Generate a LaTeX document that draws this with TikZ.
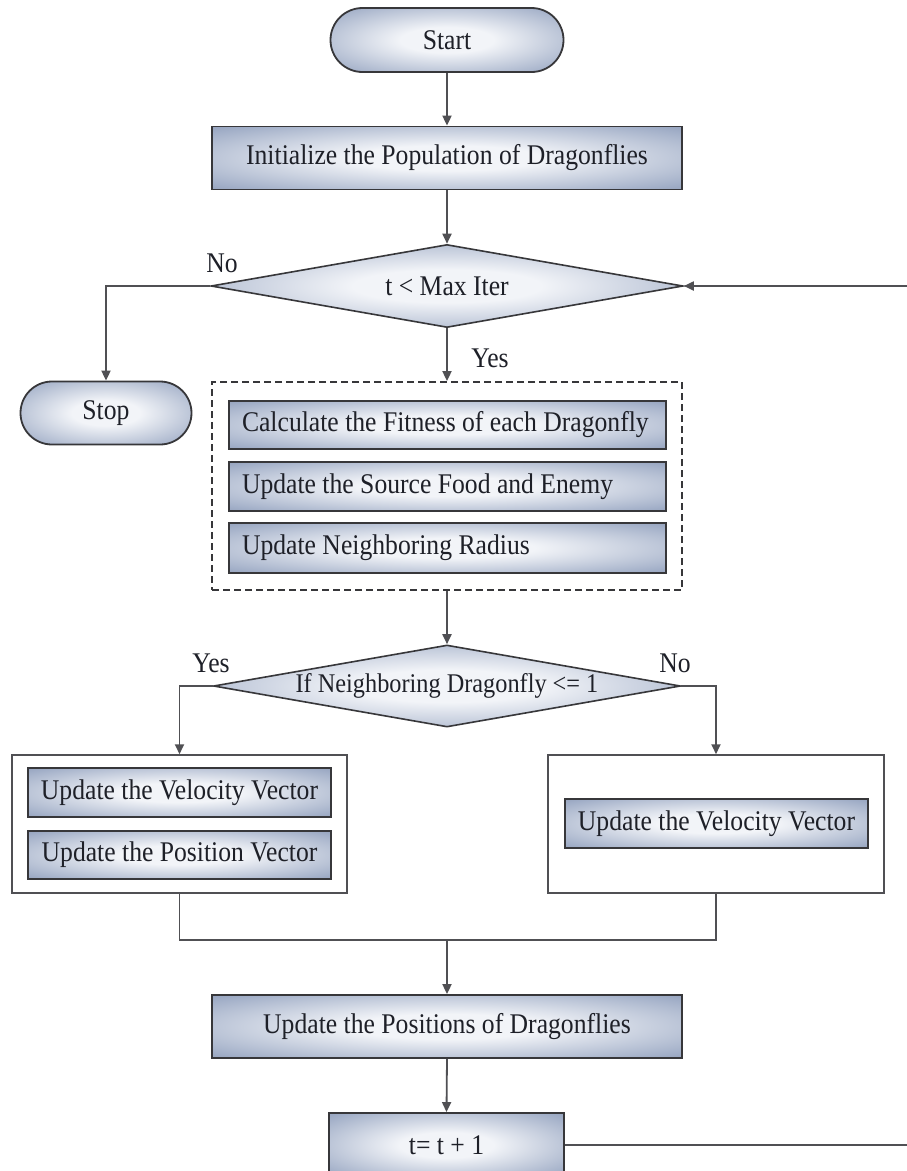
\documentclass[tikz,border=0pt]{standalone}
\usepackage{fontspec}
\setmainfont[FakeStretch=0.9]{Liberation Serif}
\usetikzlibrary{shapes.geometric,shapes.misc,arrows.meta}
\definecolor{edgeb}{RGB}{100,116,150}
\definecolor{midb}{RGB}{162,175,200}
\definecolor{cenb}{RGB}{242,244,248}
\definecolor{bordc}{RGB}{55,55,58}
\definecolor{linec}{RGB}{80,80,84}
\definecolor{txtc}{RGB}{30,32,40}
\pgfdeclareradialshading{boxshade}{\pgfpoint{0bp}{0bp}}{color(0bp)=(cenb); color(10bp)=(cenb); color(32bp)=(midb); color(50bp)=(edgeb); color(75bp)=(edgeb)}
\newcommand{\mysize}{\fontsize{28.5}{32}\selectfont}
\newcommand{\mysmall}{\fontsize{27}{30}\selectfont}
\begin{document}
\begin{tikzpicture}[x=1pt,y=-1pt,
  proc/.style={rectangle, draw=bordc, line width=1.8pt, shading=boxshade, inner sep=0pt, font=\mysize, text=txtc},
  lproc/.style={proc, inner xsep=13pt, align=flush left},
  term/.style={rounded rectangle, draw=bordc, line width=1.8pt, shading=boxshade, inner sep=0pt, font=\mysize, text=txtc},
  decis/.style={diamond, aspect=5.7, draw=bordc, line width=1.6pt, shading=boxshade, inner sep=0pt, font=\mysize, text=txtc},
  frame/.style={rectangle, draw=linec, line width=1.5pt, fill=white, inner sep=0pt},
  conn/.style={draw=linec, line width=1.8pt},
  arr/.style={conn, -{Triangle[length=10pt,width=9pt]}},
  lab/.style={font=\mysize, text=txtc, inner sep=0pt}]
\useasboundingbox (0,0) rectangle (907,1171);
\clip (0,0) rectangle (907,1171);
\fill[white] (0,0) rectangle (907,1171);

% nodes
\node[term, minimum width=233pt, minimum height=64pt] (start) at (447,40) {Start};
\node[proc, minimum width=470pt, minimum height=63pt] (init) at (447,158) {Initialize the Population of Dragonflies};
\node[decis, minimum width=472pt, minimum height=83pt] (dec1) at (447,286) {t < Max Iter};
\node[term, minimum width=171pt, minimum height=63pt] (stop) at (106,413) {Stop};

\node[rectangle, draw=bordc, line width=1.8pt, dash pattern=on 7pt off 4pt, minimum width=470pt, minimum height=208pt, inner sep=0pt] (grp) at (447,486) {};
\node[lproc, text width=411pt, minimum height=48pt] (c1) at (447.5,425) {Calculate the Fitness of each Dragonfly};
\node[lproc, text width=411pt, minimum height=49pt] (c2) at (447.5,486.5) {Update the Source Food and Enemy};
\node[lproc, text width=411pt, minimum height=50pt] (c3) at (447.5,548) {Update Neighboring Radius};

\node[decis, font=\mysmall, minimum width=467pt, minimum height=82pt] (dec2) at (447,686) {If Neighboring Dragonfly <= 1};

\node[frame, minimum width=335pt, minimum height=138pt] (lbox) at (179.5,824) {};
\node[proc, minimum width=303pt, minimum height=49pt] (l1) at (179.5,792.5) {Update the Velocity Vector};
\node[proc, minimum width=303pt, minimum height=48pt] (l2) at (179.5,855) {Update the Position Vector};

\node[frame, minimum width=336pt, minimum height=138pt] (rbox) at (716,824) {};
\node[proc, minimum width=303pt, minimum height=49pt] (r1) at (716.5,823.5) {Update the Velocity Vector};

\node[proc, minimum width=470pt, minimum height=63pt] (upd) at (447,1026.5) {Update the Positions of Dragonflies};
\node[proc, minimum width=235pt, minimum height=64pt] (tinc) at (446.5,1145) {t= t + 1};

% labels
\node[lab] (no1) at (222,263) {No};
\node[lab] (yes1) at (490,358) {Yes};
\node[lab] (yes2) at (211,663) {Yes};
\node[lab] (no2) at (675,663) {No};

% coordinates
\coordinate (back1) at (907,286);
\coordinate (merge) at (447,940);
\coordinate (back2) at (907,1145);

% connectors
\draw[arr] (start.south) -- (init.north);
\draw[arr] (init.south) -- (dec1.north);
\draw[arr] (dec1.west) -| (stop.north);
\draw[arr] (back1) -- (dec1.east);
\draw[arr] (dec1.south) -- (grp.north);
\draw[arr] (grp.south) -- (dec2.north);
\draw[arr] (dec2.west) -| (lbox.north);
\draw[arr] (dec2.east) -| (rbox.north);
\draw[conn] (lbox.south) |- (merge) -| (rbox.south);
\draw[arr] (merge) -- (upd.north);
\draw[arr] (upd.south) -- (tinc.north);
\draw[conn] (tinc.east) -- (back2);
\end{tikzpicture}
\end{document}
